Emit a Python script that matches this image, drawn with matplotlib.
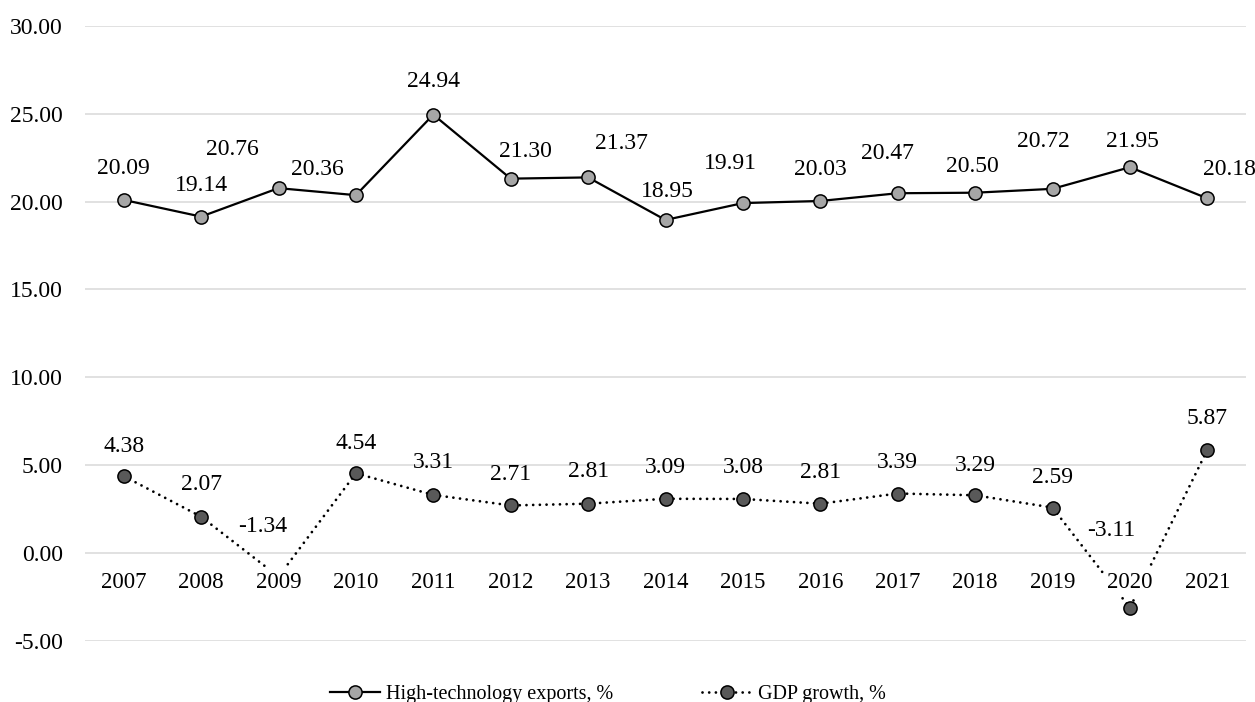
import matplotlib.pyplot as plt

plt.rcParams['font.family'] = ['Liberation Serif', 'DejaVu Serif']

# 数据
years = ['2007', '2008', '2009', '2010', '2011', '2012', '2013', '2014',
         '2015', '2016', '2017', '2018', '2019', '2020', '2021']
hitech = [20.09, 19.14, 20.76, 20.36, 24.94, 21.30, 21.37, 18.95,
          19.91, 20.03, 20.47, 20.50, 20.72, 21.95, 20.18]
gdp = [4.38, 2.07, -1.34, 4.54, 3.31, 2.71, 2.81, 3.09,
       3.08, 2.81, 3.39, 3.29, 2.59, -3.11, 5.87]

# 数据标签相对点的偏移（像素）
hitech_off = [(0, -31), (0, -31), (-46, -39), (-39, -26), (0, -33),
              (15, -27), (33, -34), (2, -28), (-12, -40), (0, -31),
              (-10, -40), (-3, -26), (-9, -47), (3, -26), (22, -29)]
gdp_off = [(0, -30), (0, -32), (-16, -50), (0, -30), (0, -32),
           (0, -31), (0, -32), (0, -31), (0, -31), (0, -31),
           (0, -31), (0, -30), (0, -30), (-19, -77), (0, -31)]

px = 0.72  # 像素 -> 磅
fs = 17

fig = plt.figure(figsize=(12.55, 7.02), dpi=100)
ax = fig.add_axes([85 / 1255, 61 / 702, 1161 / 1255, 615.3 / 702])
x = list(range(len(years)))

ax.set_xlim(-0.5, len(years) - 0.5)
ax.set_ylim(-5, 30)
ax.set_yticks([-5, 0, 5, 10, 15, 20, 25, 30])
ax.set_yticklabels(['%.2f' % v for v in [-5, 0, 5, 10, 15, 20, 25, 30]], fontsize=fs)
ax.tick_params(axis='y', length=0, pad=22 * px)
ax.set_xticks([])
for s in ax.spines.values():
    s.set_visible(False)
ax.yaxis.grid(True, color='#d9d9d9', linewidth=1.1)
ax.set_axisbelow(True)

l1, = ax.plot(x, hitech, color='black', linewidth=1.6, marker='o', markersize=9.5,
              markerfacecolor='#a6a6a6', markeredgecolor='black', markeredgewidth=1.1,
              zorder=3, label='High-technology exports, %')
l2, = ax.plot(x, gdp, color='black', linewidth=2.0, linestyle=(0, (0.01, 2.4)),
              dash_capstyle='round', marker='o', markersize=9.5,
              markerfacecolor='#595959', markeredgecolor='black', markeredgewidth=1.1,
              zorder=3, label='GDP growth, %')

for i in x:
    ax.annotate('%.2f' % hitech[i], (i, hitech[i]),
                xytext=(hitech_off[i][0] * px, -hitech_off[i][1] * px),
                textcoords='offset points', ha='center', va='center', fontsize=fs,
                annotation_clip=False)
    ax.annotate('%.2f' % gdp[i], (i, gdp[i]),
                xytext=(gdp_off[i][0] * px, -gdp_off[i][1] * px),
                textcoords='offset points', ha='center', va='center', fontsize=fs,
                annotation_clip=False)
    # 横轴标签放在 0 处，白底遮住折线
    ax.annotate(years[i], (i, 0), xytext=(0, -29 * px), textcoords='offset points',
                ha='center', va='center', fontsize=16.5, zorder=5,
                bbox=dict(boxstyle='square,pad=0.15', facecolor='white', edgecolor='none'))

fig.legend(handles=[l1, l2], loc='center', bbox_to_anchor=(0.4845, 8 / 702), ncol=2,
           frameon=False, fontsize=14.5, handlelength=2.5, handletextpad=0.3,
           columnspacing=4.4)

plt.savefig('out.png', dpi=100)
